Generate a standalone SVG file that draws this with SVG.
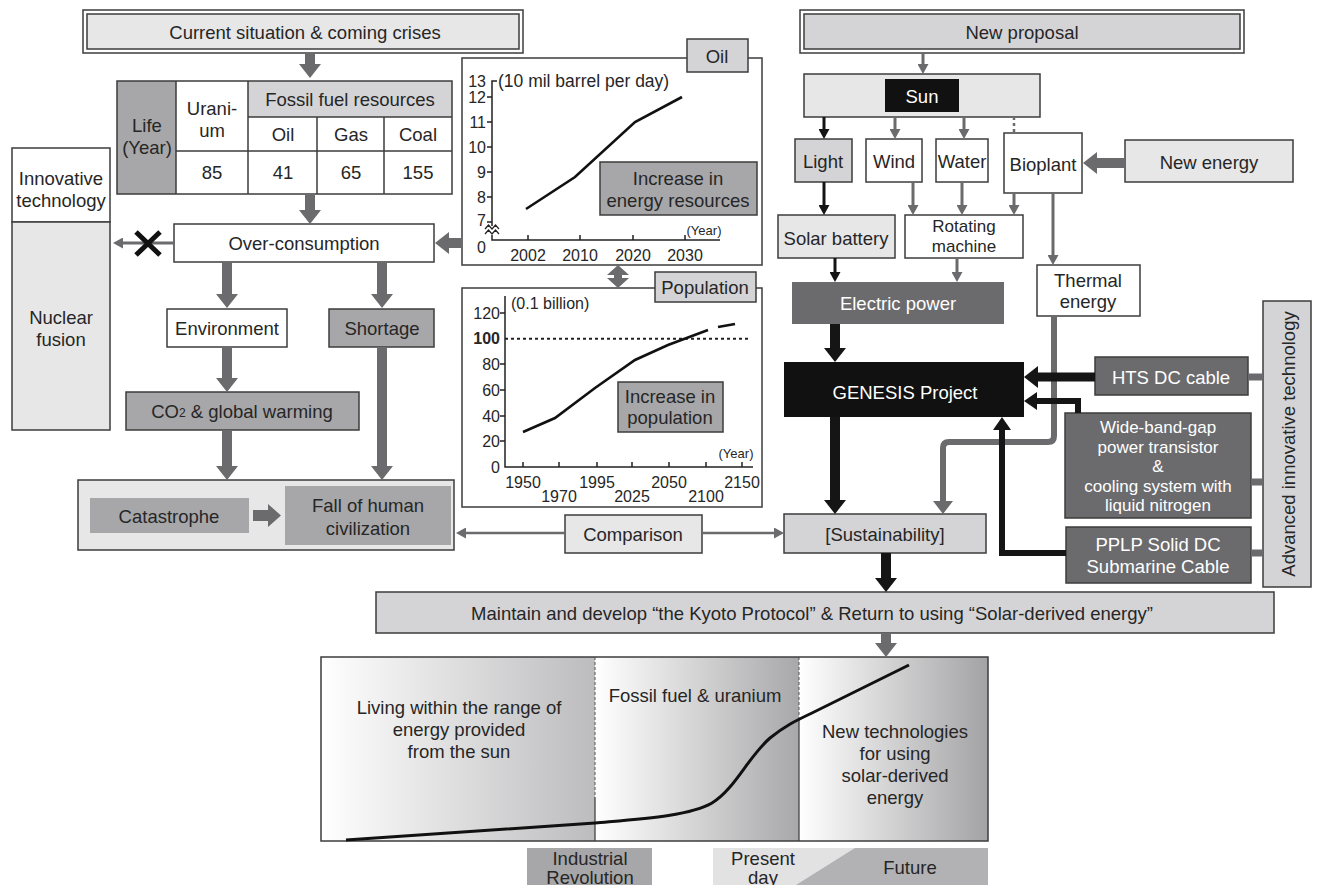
<svg xmlns="http://www.w3.org/2000/svg" width="1317" height="885" viewBox="0 0 1317 885">
<style>
  text{font-family:"Liberation Sans",Arial,Helvetica,sans-serif;font-size:18.5px;fill:#262626;text-anchor:middle;dominant-baseline:central}
  .w{fill:#fff}
  .num{font-size:16px}
  .nr{font-size:16px;text-anchor:end}
  .sm{font-size:13px}
  .tight{font-size:17px}
  .bx{stroke:#3c3c3c;stroke-width:1.5}
  .l1{fill:#e7e7e8}
  .l2{fill:#d4d4d6}
  .md{fill:#a7a7a9}
  .dk{fill:#6b6b6e}
  .wh{fill:#fff}
  .bk{fill:#111}
  .cg{fill:none;stroke:#6b6b6e}
  .ck{fill:none;stroke:#151515}
  .ax{fill:none;stroke:#222;stroke-width:1.5}
</style>
<defs>
  <marker id="ah-g" markerUnits="userSpaceOnUse" viewBox="0 0 14 22" markerWidth="14" markerHeight="22" refX="1" refY="11" orient="auto"><path d="M0,0L14,11L0,22z" fill="#6b6b6e"/></marker>
  <marker id="ah-k" markerUnits="userSpaceOnUse" viewBox="0 0 14 22" markerWidth="14" markerHeight="22" refX="1" refY="11" orient="auto"><path d="M0,0L14,11L0,22z" fill="#151515"/></marker>
  <marker id="ah-gm" markerUnits="userSpaceOnUse" viewBox="0 0 13 20" markerWidth="13" markerHeight="20" refX="1" refY="10" orient="auto"><path d="M0,0L13,10L0,20z" fill="#6b6b6e"/></marker>
  <marker id="ah-km" markerUnits="userSpaceOnUse" viewBox="0 0 13 18" markerWidth="13" markerHeight="18" refX="1" refY="9" orient="auto"><path d="M0,0L13,9L0,18z" fill="#151515"/></marker>
  <marker id="ah-gs" markerUnits="userSpaceOnUse" viewBox="0 0 10 11" markerWidth="10" markerHeight="11" refX="1" refY="5.5" orient="auto"><path d="M0,0L10,5.5L0,11z" fill="#6b6b6e"/></marker>
  <marker id="ah-ks" markerUnits="userSpaceOnUse" viewBox="0 0 10 11" markerWidth="10" markerHeight="11" refX="1" refY="5.5" orient="auto"><path d="M0,0L10,5.5L0,11z" fill="#151515"/></marker>
  <linearGradient id="g1" x1="0" x2="1" y1="0" y2="0"><stop offset="0" stop-color="#ffffff"/><stop offset="1" stop-color="#bcbcbe"/></linearGradient>
  <linearGradient id="g2" x1="0" x2="1" y1="0" y2="0"><stop offset="0" stop-color="#ffffff"/><stop offset="1" stop-color="#a8a8aa"/></linearGradient>
  <linearGradient id="g3" x1="0" x2="1" y1="0" y2="0"><stop offset="0" stop-color="#ffffff"/><stop offset="1" stop-color="#a3a3a5"/></linearGradient>
</defs>

<rect width="1317" height="885" fill="#fff"/>

<!-- ===== left column: present situation ===== -->
<g id="n-current">
  <rect x="83" y="10" width="440" height="43" class="bx wh"/>
  <rect x="87" y="14" width="432" height="35" class="bx l1"/>
  <text x="305" y="32">Current situation &amp; coming crises</text>
</g>

<g id="n-table">
  <rect x="117" y="81" width="59" height="113" class="md"/>
  <rect x="176" y="81" width="276" height="113" class="wh"/>
  <rect x="248" y="81" width="204" height="36" class="l2"/>
  <g fill="none" stroke="#3c3c3c" stroke-width="1.5">
    <rect x="117" y="81" width="335" height="113"/>
    <path d="M176,81V194M248,81V194M317,117V194M384,117V194M248,117H452M176,151H452"/>
  </g>
  <text x="147"><tspan x="147" y="125">Life</tspan><tspan x="147" y="147">(Year)</tspan></text>
  <text x="212"><tspan x="212" y="108">Urani-</tspan><tspan x="212" y="130">um</tspan></text>
  <text x="350" y="99">Fossil fuel resources</text>
  <text x="283" y="134">Oil</text>
  <text x="351" y="134">Gas</text>
  <text x="418" y="134">Coal</text>
  <text x="212" y="172">85</text>
  <text x="283" y="172">41</text>
  <text x="351" y="172">65</text>
  <text x="418" y="172">155</text>
</g>

<g id="n-innovative">
  <rect x="12" y="148" width="98" height="74" class="bx wh"/>
  <text x="61"><tspan x="61" y="178">Innovative</tspan><tspan x="61" y="200">technology</tspan></text>
</g>
<g id="n-nuclear">
  <rect x="12" y="222" width="98" height="208" class="bx l1"/>
  <text x="61"><tspan x="61" y="317">Nuclear</tspan><tspan x="61" y="339">fusion</tspan></text>
</g>

<g id="n-over">
  <rect x="174" y="224" width="260" height="38" class="bx wh"/>
  <text x="304" y="243">Over-consumption</text>
</g>
<g id="n-environment">
  <rect x="167" y="309" width="120" height="38" class="bx wh"/>
  <text x="227" y="328">Environment</text>
</g>
<g id="n-shortage">
  <rect x="329" y="309" width="105" height="38" class="bx md"/>
  <text x="382" y="328">Shortage</text>
</g>
<g id="n-co2">
  <rect x="126" y="392" width="233" height="38" class="bx md"/>
  <text x="242" y="411">CO<tspan font-size="12" dy="2">2</tspan><tspan dy="-2"> &amp; global warming</tspan></text>
</g>

<g id="n-crisis">
  <rect x="78" y="480" width="376" height="70" class="bx l1"/>
  <rect x="90" y="498" width="159" height="35" class="md"/>
  <text x="169" y="516">Catastrophe</text>
  <polygon points="253,510 268,510 268,504 281,515.5 268,527 268,521 253,521" fill="#6b6b6e"/>
  <rect x="285" y="486" width="166" height="59" class="md"/>
  <text x="368"><tspan x="368" y="505">Fall of human</tspan><tspan x="368" y="528">civilization</tspan></text>
</g>

<g id="n-comparison">
  <rect x="565" y="515" width="137" height="38" class="bx l1"/>
  <text x="633" y="534">Comparison</text>
</g>

<!-- ===== oil output chart ===== -->
<g id="n-oil-chart">
  <rect x="462" y="58" width="300" height="207" class="bx wh"/>
  <rect x="687" y="39" width="61" height="33" class="bx l2"/>
  <text x="717" y="56">Oil</text>
  <path class="ax" d="M497,81H492V226M492,235V240H720"/>
  <path class="ax" d="M487,97H492M487,122H492M487,147H492M487,172H492M487,197H492M487,222H492M528,240V235M580,240V235M633,240V235M685,240V235"/>
  <path fill="none" stroke="#222" stroke-width="1.2" d="M485,229l3.5,-4l3.5,4l3.5,-4l3.5,4M485,234l3.5,-4l3.5,4l3.5,-4l3.5,4"/>
  <text class="nr" x="486" y="81">13</text>
  <text class="nr" x="486" y="97">12</text>
  <text class="nr" x="486" y="122">11</text>
  <text class="nr" x="486" y="147">10</text>
  <text class="nr" x="486" y="172">9</text>
  <text class="nr" x="486" y="197">8</text>
  <text class="nr" x="486" y="220">7</text>
  <text class="nr" x="486" y="247">0</text>
  <text x="498" y="81" style="text-anchor:start;font-size:17.5px">(10 mil barrel per day)</text>
  <text class="num" x="528" y="255">2002</text>
  <text class="num" x="580" y="255">2010</text>
  <text class="num" x="633" y="255">2020</text>
  <text class="num" x="685" y="255">2030</text>
  <text class="sm" x="704" y="230">(Year)</text>
  <path d="M526,209L575,177L635,122L682,97" fill="none" stroke="#111" stroke-width="2.6"/>
  <rect x="600" y="162" width="157" height="53" class="bx md"/>
  <text x="678"><tspan x="678" y="178">Increase in</tspan><tspan x="678" y="200">energy resources</tspan></text>
</g>

<!-- ===== population chart ===== -->
<g id="n-pop-chart">
  <rect x="462" y="288" width="300" height="219" class="bx wh"/>
  <rect x="655" y="272" width="101" height="30" class="bx l2"/>
  <text x="705" y="287">Population</text>
  <path class="ax" d="M505,296V467H753"/>
  <path class="ax" d="M500,313H505M500,364H505M500,390H505M500,416H505M500,441H505M523,467V462M559,467V462M597,467V462M632,467V462M669,467V462M706,467V462M742,467V462"/>
  <path d="M505,338.7H750" fill="none" stroke="#222" stroke-width="2" stroke-dasharray="3,3"/>
  <text class="nr" x="500" y="313">120</text>
  <text class="nr" x="500" y="338" font-weight="bold">100</text>
  <text class="nr" x="500" y="364">80</text>
  <text class="nr" x="500" y="390">60</text>
  <text class="nr" x="500" y="416">40</text>
  <text class="nr" x="500" y="441">20</text>
  <text class="nr" x="500" y="467">0</text>
  <text x="511" y="303" style="text-anchor:start;font-size:16px">(0.1 billion)</text>
  <text class="num" x="523" y="482">1950</text>
  <text class="num" x="597" y="482">1995</text>
  <text class="num" x="669" y="482">2050</text>
  <text class="num" x="742" y="482">2150</text>
  <text class="num" x="559" y="496">1970</text>
  <text class="num" x="632" y="496">2025</text>
  <text class="num" x="706" y="496">2100</text>
  <text class="sm" x="736" y="453">(Year)</text>
  <path d="M523,432L555,418L595,388L635,360L668,345L708,330" fill="none" stroke="#111" stroke-width="2.6"/>
  <path d="M718,327L735,324" fill="none" stroke="#111" stroke-width="2.6"/>
  <rect x="618" y="382" width="105" height="50" class="bx md"/>
  <text x="670"><tspan x="670" y="396">Increase in</tspan><tspan x="670" y="417">population</tspan></text>
</g>

<!-- ===== right column: proposal ===== -->
<g id="n-newproposal">
  <rect x="800" y="10" width="444" height="43" class="bx wh"/>
  <rect x="804" y="14" width="436" height="35" class="bx l2"/>
  <text x="1022" y="32">New proposal</text>
</g>
<g id="n-sun">
  <rect x="804" y="74" width="236" height="43" class="bx l1"/>
  <rect x="885" y="79" width="74" height="33" class="bk"/>
  <text class="w" x="922" y="96">Sun</text>
</g>
<g id="n-light">
  <rect x="795" y="139" width="57" height="43" class="bx l2"/>
  <text x="823" y="161">Light</text>
</g>
<g id="n-wind">
  <rect x="866" y="139" width="56" height="43" class="bx wh"/>
  <text x="894" y="161">Wind</text>
</g>
<g id="n-water">
  <rect x="936" y="139" width="52" height="43" class="bx wh"/>
  <text x="962" y="161">Water</text>
</g>
<g id="n-bioplant">
  <rect x="1004" y="133" width="78" height="60" class="bx wh"/>
  <text x="1043" y="164">Bioplant</text>
</g>
<g id="n-newenergy">
  <rect x="1125" y="140" width="168" height="42" class="bx l1"/>
  <text x="1209" y="162">New energy</text>
</g>
<g id="n-solar">
  <rect x="778" y="215" width="117" height="43" class="bx l1"/>
  <text x="836" y="238">Solar battery</text>
</g>
<g id="n-rotating">
  <rect x="905" y="215" width="118" height="43" class="bx wh"/>
  <text class="tight" x="964"><tspan x="964" y="226">Rotating</tspan><tspan x="964" y="246">machine</tspan></text>
</g>
<g id="n-electric">
  <rect x="792" y="282" width="212" height="42" class="dk"/>
  <text class="w" x="898" y="303">Electric power</text>
</g>
<g id="n-thermal">
  <rect x="1037" y="265" width="103" height="51" class="bx wh"/>
  <text x="1088"><tspan x="1088" y="280">Thermal</tspan><tspan x="1088" y="301">energy</tspan></text>
</g>
<g id="n-genesis">
  <rect x="784" y="362" width="240" height="55" class="bk"/>
  <text class="w" x="905" y="392">GENESIS Project</text>
</g>
<g id="n-hts">
  <rect x="1095" y="357" width="153" height="38" class="bx dk"/>
  <text class="w" x="1171" y="377">HTS DC cable</text>
</g>
<g id="n-wbg">
  <rect x="1065" y="413" width="186" height="105" class="bx dk"/>
  <text class="w tight" x="1158"><tspan x="1158" y="427">Wide-band-gap</tspan><tspan x="1158" y="446.5">power transistor</tspan><tspan x="1158" y="466">&amp;</tspan><tspan x="1158" y="485.5">cooling system with</tspan><tspan x="1158" y="505">liquid nitrogen</tspan></text>
</g>
<g id="n-pplp">
  <rect x="1066" y="527" width="185" height="56" class="bx dk"/>
  <text class="w" x="1158"><tspan x="1158" y="544">PPLP Solid DC</tspan><tspan x="1158" y="566">Submarine Cable</tspan></text>
</g>
<g id="n-advanced">
  <rect x="1263" y="301" width="48" height="286" class="bx l2"/>
  <text transform="translate(1288,444) rotate(-90)">Advanced innovative technology</text>
</g>
<g id="n-sustainability">
  <rect x="784" y="514" width="202" height="39" class="bx l2"/>
  <text x="885" y="534">[Sustainability]</text>
</g>
<g id="n-maintain">
  <rect x="376" y="592" width="898" height="41" class="bx l2"/>
  <text x="812" y="613">Maintain and develop “the Kyoto Protocol” &amp; Return to using “Solar-derived energy”</text>
</g>

<!-- ===== energy history timeline ===== -->
<g id="n-timeline">
  <rect x="321" y="657" width="274" height="184" fill="url(#g1)"/>
  <rect x="595" y="657" width="204" height="184" fill="url(#g2)"/>
  <rect x="799" y="657" width="189" height="184" fill="url(#g3)"/>
  <path d="M595,657V797M799,657V720" stroke="#555" stroke-width="1" stroke-dasharray="3,2" fill="none"/>
  <path d="M595,797V841M799,720V841" stroke="#444" stroke-width="1.3" fill="none"/>
  <rect x="321" y="657" width="667" height="184" fill="none" class="bx"/>
  <text x="459"><tspan x="459" y="707">Living within the range of</tspan><tspan x="459" y="729">energy provided</tspan><tspan x="459" y="751">from the sun</tspan></text>
  <text x="695" y="695">Fossil fuel &amp; uranium</text>
  <text x="895"><tspan x="895" y="731">New technologies</tspan><tspan x="895" y="753">for using</tspan><tspan x="895" y="775">solar-derived</tspan><tspan x="895" y="797">energy</tspan></text>
  <path d="M346,840L595,823C640,819 690,816 712,803C735,789 748,757 770,738C785,726 795,721 812,713L909,665" fill="none" stroke="#111" stroke-width="3"/>
  <rect x="527" y="848" width="125" height="37" class="md"/>
  <text x="590"><tspan x="590" y="858">Industrial</tspan><tspan x="590" y="877">Revolution</tspan></text>
  <rect x="713" y="848" width="275" height="37" fill="#e2e2e3"/>
  <polygon points="855,848 988,848 988,885 796,885" fill="#b2b2b4"/>
  <text x="763"><tspan x="763" y="858">Present</tspan><tspan x="763" y="877">day</tspan></text>
  <text x="910" y="867">Future</text>
</g>

<!-- ===== connectors ===== -->
<g id="connectors">
  <!-- left column, thick grey -->
  <g class="cg" stroke-width="10" marker-end="url(#ah-g)">
    <path d="M310,53V65"/>
    <path d="M310,194V211"/>
    <path d="M227,262V295"/>
    <path d="M382,262V295"/>
    <path d="M227,347V379"/>
    <path d="M227,430V467"/>
    <path d="M382,347V467"/>
    <path d="M462,243H448"/>
    <path d="M1125,163H1096"/>
    <path d="M886,633V644"/>
  </g>
  <polygon points="618,265 629,275 622,275 622,278 629,278 618,288 607,278 614,278 614,275 607,275" fill="#6b6b6e"/>
  <!-- blocked path to fusion -->
  <path class="cg" stroke-width="3" d="M174,243H122" marker-end="url(#ah-gs)"/>
  <path d="M136,232L160,255M160,232L136,255" stroke="#111" stroke-width="5" fill="none"/>
  <!-- comparison -->
  <g class="cg" stroke-width="2.5" marker-end="url(#ah-gs)">
    <path d="M565,533H465"/>
    <path d="M702,533H775"/>
  </g>
  <!-- thin arrows from the sun -->
  <g class="cg" stroke-width="3" marker-end="url(#ah-gs)">
    <path d="M923,53V65"/>
    <path d="M895,117V130"/>
    <path d="M964,117V130"/>
    <path d="M913,182V206"/>
    <path d="M962,182V206"/>
    <path d="M1014,193V206"/>
    <path d="M1053,193V256"/>
    <path d="M957,258V273"/>
  </g>
  <path d="M1014,117V133" class="cg" stroke-width="2.5" stroke-dasharray="3,3"/>
  <g class="ck" stroke-width="3" marker-end="url(#ah-ks)">
    <path d="M824,117V130"/>
    <path d="M824,182V206"/>
    <path d="M835,258V273"/>
  </g>
  <!-- thermal energy to sustainability -->
  <path class="cg" stroke-width="6" d="M1054,316V436Q1054,442 1048,442H949Q943,442 943,448V502" marker-end="url(#ah-gm)"/>
  <!-- into and out of GENESIS -->
  <g class="ck" stroke-width="10" marker-end="url(#ah-k)">
    <path d="M835,324V349"/>
    <path d="M835,417V501"/>
    <path d="M886,553V579"/>
  </g>
  <path class="ck" stroke-width="9" d="M1095,377H1037" marker-end="url(#ah-k)"/>
  <g class="ck" stroke-width="6" marker-end="url(#ah-km)">
    <path d="M1078,413V401H1036"/>
    <path d="M1066,553H1002V429"/>
  </g>
  <!-- links to the advanced technology bar -->
  <path class="cg" stroke-width="7" d="M1248,377H1263M1251,482H1263M1251,553H1263"/>
</g>
</svg>
